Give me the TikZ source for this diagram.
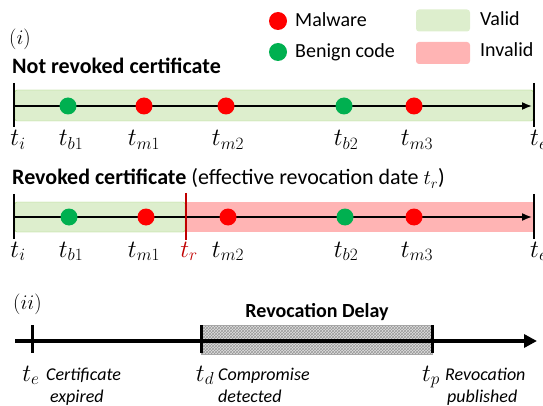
\documentclass[tikz,border=0pt]{standalone}
\usepackage{fontspec}
\setmainfont{Carlito}
\usetikzlibrary{arrows.meta,patterns}
\definecolor{mred}{RGB}{255,0,0}
\definecolor{bgreen}{RGB}{0,176,80}
\definecolor{validf}{RGB}{221,238,205}
\definecolor{validd}{RGB}{160,210,110}
\definecolor{invalidf}{RGB}{255,180,180}
\definecolor{trred}{RGB}{192,0,0}
\begin{document}
\begin{tikzpicture}[x=1pt,y=-1pt,
  dot/.style={circle,inner sep=0pt,minimum size=17pt},
  mal/.style={dot,fill=mred},
  ben/.style={dot,fill=bgreen},
  tline/.style={line width=1.6pt,-{Latex[length=10pt,width=8pt]}},
  tick/.style={line width=2.5pt},
  tlab/.style={font=\fontsize{23}{26}\selectfont, inner sep=0pt, anchor=base},
  leg/.style={font=\fontsize{20}{24}\selectfont, anchor=base west, inner sep=0pt},
  head/.style={font=\fontsize{22}{26}\selectfont\bfseries, anchor=base west, inner sep=0pt},
  captxt/.style={font=\fontsize{18}{22}\selectfont\itshape, anchor=north west, align=left, inner sep=0pt},
  legbox/.style={rounded corners=3pt, minimum width=54pt, minimum height=22pt, inner sep=0pt},
]
\useasboundingbox (0,0) rectangle (543,406);
% legend
\node[mal,minimum size=18pt] (lm) at (278,21) {};
\node[leg] (lmt) at (295,27) {Malware};
\node[ben,minimum size=18pt] (lb) at (278,52) {};
\node[leg] (lbt) at (295,58) {Benign code};
\node[legbox, fill=validf] (lv) at (443,20.5) {};
\node[leg] (lvt) at (480,26) {Valid};
\node[legbox, fill=invalidf] (li) at (443,53) {};
\node[leg] (lit) at (480,57) {Invalid};
% part (i)
\node[leg, font=\fontsize{22}{26}\selectfont] (pi) at (9,45) {$(i)$};
\node[head] (h1) at (12,74) {Not revoked certificate};
\draw[fill=validf, draw=validd, rounded corners=2pt] (15,90) rectangle (533,121);
\coordinate (a1) at (14,106);
\coordinate (e1) at (532,106);
\draw[tline] (a1) -- (e1);
\draw[tick] (14,83) -- (14,127);
\draw[tick] (534,83) -- (534,127);
\node[ben] (b11) at (68,106) {};
\node[mal] (m11) at (144,106) {};
\node[mal] (m21) at (226,106) {};
\node[ben] (b21) at (344,106) {};
\node[mal] (m31) at (414,106) {};
\node[tlab] (ti1) at (18,146) {$t_i$};
\node[tlab] (tb11) at (71,146) {$t_{b1}$};
\node[tlab] (tm11) at (144,146) {$t_{m1}$};
\node[tlab] (tm21) at (228,146) {$t_{m2}$};
\node[tlab] (tb21) at (346,146) {$t_{b2}$};
\node[tlab] (tm31) at (417,146) {$t_{m3}$};
\node[tlab, anchor=base west] (te1) at (530,146) {$t_e$};
% revoked
\node[head] (h2) at (12,185) {Revoked certificate \mdseries(effective revocation date $t_r$)};
\draw[fill=validf, draw=validd, rounded corners=2pt] (15,202) rectangle (185,232);
\fill[invalidf] (187,202) rectangle (534,232);
\coordinate (a2) at (14,217);
\coordinate (e2) at (532,217);
\draw[tline] (a2) -- (e2);
\draw[tick] (14,194) -- (14,239);
\draw[tick] (534,194) -- (534,239);
\draw[tick, trred] (186,193) -- (186,240);
\node[ben] (b12) at (69,217) {};
\node[mal] (m12) at (146,217) {};
\node[mal] (m22) at (228,217) {};
\node[ben] (b22) at (345,217) {};
\node[mal] (m32) at (414,217) {};
\node[tlab] (ti2) at (18,257) {$t_i$};
\node[tlab] (tb12) at (71,257) {$t_{b1}$};
\node[tlab] (tm12) at (144,257) {$t_{m1}$};
\node[tlab, text=trred] (tr2) at (189,257) {$t_r$};
\node[tlab] (tm22) at (228,257) {$t_{m2}$};
\node[tlab] (tb22) at (346,257) {$t_{b2}$};
\node[tlab] (tm32) at (417,257) {$t_{m3}$};
\node[tlab, anchor=base west] (te2) at (530,257) {$t_e$};
% part (ii)
\node[leg, font=\fontsize{22}{26}\selectfont] (pii) at (13,309) {$(ii)$};
\fill[gray!25] (201,325) rectangle (432,354);
\draw[gray!70, pattern=crosshatch, pattern color=gray!80] (201,325) rectangle (432,354);
\node[font=\fontsize{20}{24}\selectfont\bfseries, anchor=base, inner sep=0pt] (rd) at (317,317) {Revocation Delay};
\coordinate (s3) at (15,341);
\coordinate (f3) at (537,341);
\draw[line width=3.5pt, -{Triangle[length=13pt,width=13pt]}] (s3) -- (f3);
\draw[line width=3pt] (32,325) -- (32,353);
\draw[line width=3pt] (201,325) -- (201,353);
\draw[line width=3pt] (432,325) -- (432,353);
\node[tlab] (te3) at (31,381) {$t_e$};
\node[captxt] (c1) at (46,368) {Certificate\\\hspace{4pt}expired};
\node[tlab] (td3) at (205,381) {$t_d$};
\node[captxt] (c2) at (218,368) {Compromise\\detected};
\node[tlab] (tp3) at (431,381) {$t_p$};
\node[captxt] (c3) at (445,368) {Revocation\\\hspace{2pt}published};
\end{tikzpicture}
\end{document}
